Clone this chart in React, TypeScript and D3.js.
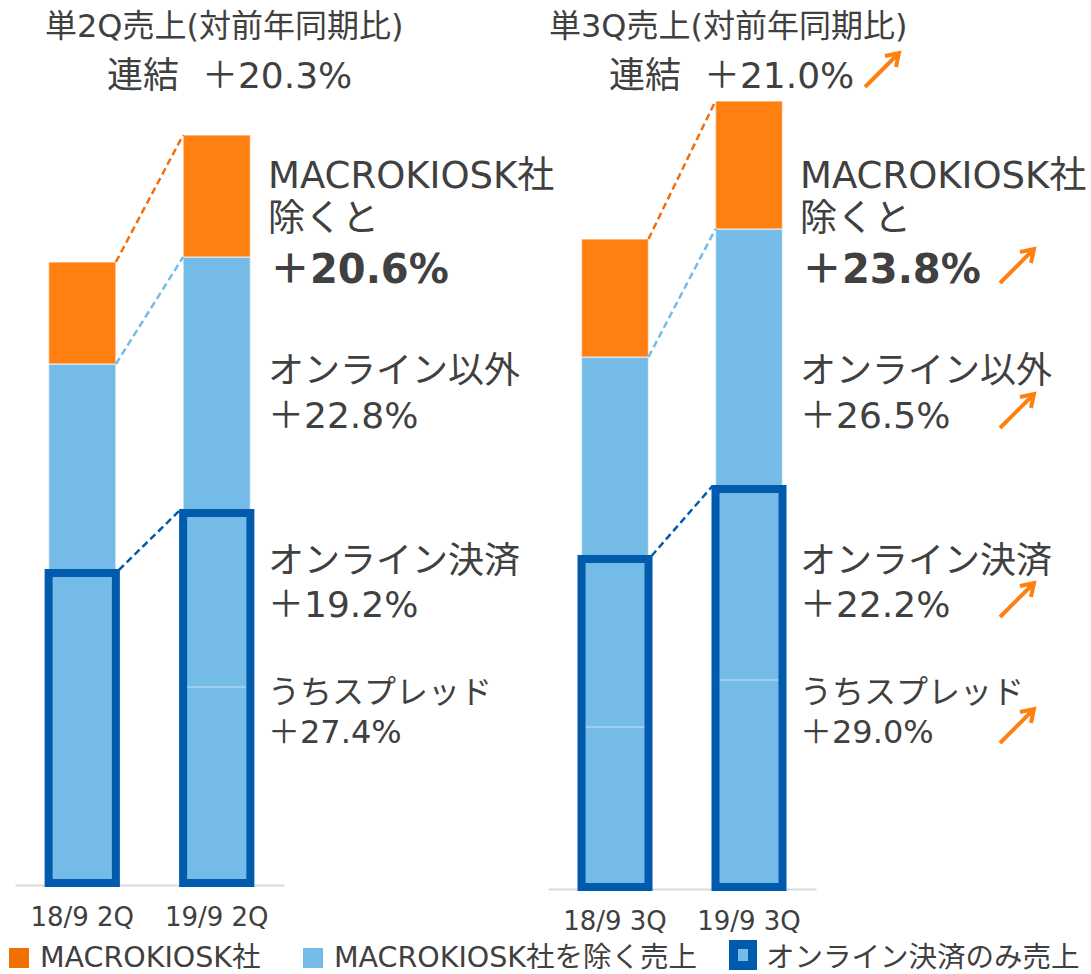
import { useEffect, useRef } from 'react';
import * as d3 from 'd3';

const W = 1091;
const H = 974;
const FONT = "'DejaVu Sans', 'Noto Sans CJK JP', sans-serif";
const TEXT = '#404040';
const ORANGE = '#FF7F11';
const LIGHT = '#74BBE7';
const DARK = '#005BAC';

// 単2Q売上
const categories2Q = ['18/9 2Q', '19/9 2Q'];
const online2Q = [310, 370];
const otherExMacro2Q = [209, 256];
const macrokiosk2Q = [102, 122];
const spread2Q = [null, 196];
const growth2Q = [20.3, 20.6, 22.8, 19.2, 27.4];

// 単3Q売上
const categories3Q = ['18/9 3Q', '19/9 3Q'];
const online3Q = [328, 398];
const otherExMacro3Q = [202, 260];
const macrokiosk3Q = [118, 128];
const spread3Q = [160, 207];
const growth3Q = [21.0, 23.8, 26.5, 22.2, 29.0];

const segmentLabels = [['MACROKIOSK社', '除くと'], ['オンライン以外'], ['オンライン決済'], ['うちスプレッド']];
const legendLabels = ['MACROKIOSK社', 'MACROKIOSK社を除く売上', 'オンライン決済のみ売上'];

const pct = (v: number) => '＋' + d3.format('.1f')(v) + '%';

const panels = [
  {
    title: '単2Q売上(対前年同期比)',
    categories: categories2Q, online: online2Q, other: otherExMacro2Q, macro: macrokiosk2Q, spread: spread2Q,
    growth: growth2Q, arrows: false,
    x0: 15, x1: 284, baseline: 883,
    titleX: 45, consX: 107, annX: 268,
  },
  {
    title: '単3Q売上(対前年同期比)',
    categories: categories3Q, online: online3Q, other: otherExMacro3Q, macro: macrokiosk3Q, spread: spread3Q,
    growth: growth3Q, arrows: true,
    x0: 548, x1: 816, baseline: 887,
    titleX: 549, consX: 609, annX: 800,
  },
];

function arrow(g: any, x: number, y: number) {
  const hx = x + 34;
  const hy = y - 34;
  g.append('path')
    .attr('d', `M${x},${y}L${hx},${hy}M${hx - 14},${hy + 3}L${hx},${hy}L${hx - 3},${hy + 14}`)
    .attr('fill', 'none')
    .attr('stroke', ORANGE)
    .attr('stroke-width', 4);
}

function drawPanel(svg: any, p: any) {
  const rows = p.categories.map((c: string, i: number) => ({
    cat: c, online: p.online[i], other: p.other[i], macro: p.macro[i], spread: p.spread[i],
  }));
  const series = d3.stack().keys(['online', 'other', 'macro'])(rows);
  const color: any = { online: LIGHT, other: LIGHT, macro: ORANGE };

  const x = d3.scaleBand().domain(p.categories).range([p.x0, p.x1]).paddingInner(0.5).paddingOuter(0.25);
  const y = d3.scaleLinear().domain([0, 800]).range([p.baseline, p.baseline - 800]);
  const bw = x.bandwidth();

  const g = svg.append('g');

  // Axis
  const axis = g.append('g')
    .attr('transform', `translate(0,${p.baseline + 2})`)
    .call(d3.axisBottom(x).tickSize(0).tickSizeOuter(0).tickPadding(23));
  axis.select('.domain').attr('stroke', '#d9d9d9').attr('stroke-width', 2);
  axis.selectAll('text')
    .attr('font-family', FONT)
    .attr('font-size', 26)
    .attr('fill', TEXT);

  // Stacked bars
  g.selectAll('g.layer')
    .data(series)
    .join('g')
    .attr('fill', (d: any) => color[d.key])
    .selectAll('rect')
    .data((d: any) => d)
    .join('rect')
    .attr('x', (d: any) => x(d.data.cat))
    .attr('y', (d: any) => y(d[1]))
    .attr('width', bw)
    .attr('height', (d: any) => y(d[0]) - y(d[1]))
    .attr('stroke', 'rgba(255,255,255,0.55)')
    .attr('stroke-width', 1.5);

  // Spread divider
  g.selectAll('line.spread')
    .data(rows.filter((d: any) => d.spread != null))
    .join('line')
    .attr('x1', (d: any) => x(d.cat)! + 4)
    .attr('x2', (d: any) => x(d.cat)! + bw - 4)
    .attr('y1', (d: any) => y(d.spread))
    .attr('y2', (d: any) => y(d.spread))
    .attr('stroke', '#a9d4f2')
    .attr('stroke-width', 1.5);

  // Online payment outline
  g.selectAll('rect.outline')
    .data(rows)
    .join('rect')
    .attr('x', (d: any) => x(d.cat))
    .attr('y', (d: any) => y(d.online))
    .attr('width', bw)
    .attr('height', (d: any) => y(0) - y(d.online))
    .attr('fill', 'none')
    .attr('stroke', DARK)
    .attr('stroke-width', 8);

  // Connectors
  const a = p.categories[0];
  const b = p.categories[1];
  const conn = [
    { idx: 2, color: '#F07010', pad: 0 },
    { idx: 1, color: LIGHT, pad: 0 },
    { idx: 0, color: DARK, pad: 3 },
  ];
  conn.forEach(c => {
    g.append('line')
      .attr('x1', x(a)! + bw + c.pad)
      .attr('y1', y(series[c.idx][0][1]) - c.pad)
      .attr('x2', x(b)! - c.pad)
      .attr('y2', y(series[c.idx][1][1]) - c.pad)
      .attr('stroke', c.color)
      .attr('stroke-width', 2.5)
      .attr('stroke-dasharray', '7,4');
  });

  const txt = (tx: number, ty: number, s: string, size: number, weight = 'normal') =>
    g.append('text')
      .attr('x', tx)
      .attr('y', ty)
      .attr('font-family', FONT)
      .attr('font-size', size)
      .attr('font-weight', weight)
      .attr('fill', TEXT)
      .style('white-space', 'pre')
      .text(s);

  // Titles
  txt(p.titleX, 37, p.title, 32);
  txt(p.consX, 88, '連結  ' + pct(p.growth[0]), 36);
  if (p.arrows) arrow(g, 865, 87);

  // Segment annotations
  const lay = [
    { lines: [188, 231], val: 283, size: 37, bold: true },
    { lines: [383], val: 428, size: 36, bold: false },
    { lines: [573], val: 617, size: 36, bold: false },
    { lines: [703], val: 743, size: 32, bold: false },
  ];
  lay.forEach((l, i) => {
    segmentLabels[i].forEach((s, j) => txt(p.annX, l.lines[j], s, l.size));
    txt(p.annX + (l.bold ? 2 : 0), l.val, pct(p.growth[i + 1]), l.bold ? 40 : l.size, l.bold ? 'bold' : 'normal');
    if (p.arrows) arrow(g, 1000, l.val);
  });
}

function drawLegend(svg: any) {
  const g = svg.append('g');
  g.append('rect').attr('x', 9).attr('y', 948).attr('width', 20).attr('height', 20).attr('fill', '#F07000');
  g.append('rect').attr('x', 303).attr('y', 948).attr('width', 20).attr('height', 20).attr('fill', LIGHT);
  g.append('rect').attr('x', 733.5).attr('y', 944.5).attr('width', 19).attr('height', 21)
    .attr('fill', LIGHT).attr('stroke', DARK).attr('stroke-width', 9);
  const xs = [40, 334, 766];
  legendLabels.forEach((s, i) => {
    g.append('text')
      .attr('x', xs[i])
      .attr('y', 967)
      .attr('font-family', FONT)
      .attr('font-size', 28.5)
      .attr('fill', TEXT)
      .text(s);
  });
}

export default function App() {
  const svgRef = useRef<SVGSVGElement>(null);

  useEffect(() => {
    if (!svgRef.current) return;
    const svg = d3.select(svgRef.current);
    svg.selectAll('*').remove();
    panels.forEach(p => drawPanel(svg, p));
    drawLegend(svg);
  }, []);

  return (
    <div style={{ position: 'absolute', left: 0, top: 0, width: W, height: H, overflow: 'hidden', background: '#fff' }}>
      <svg ref={svgRef} width={W} height={H} style={{ display: 'block' }}></svg>
    </div>
  );
}
